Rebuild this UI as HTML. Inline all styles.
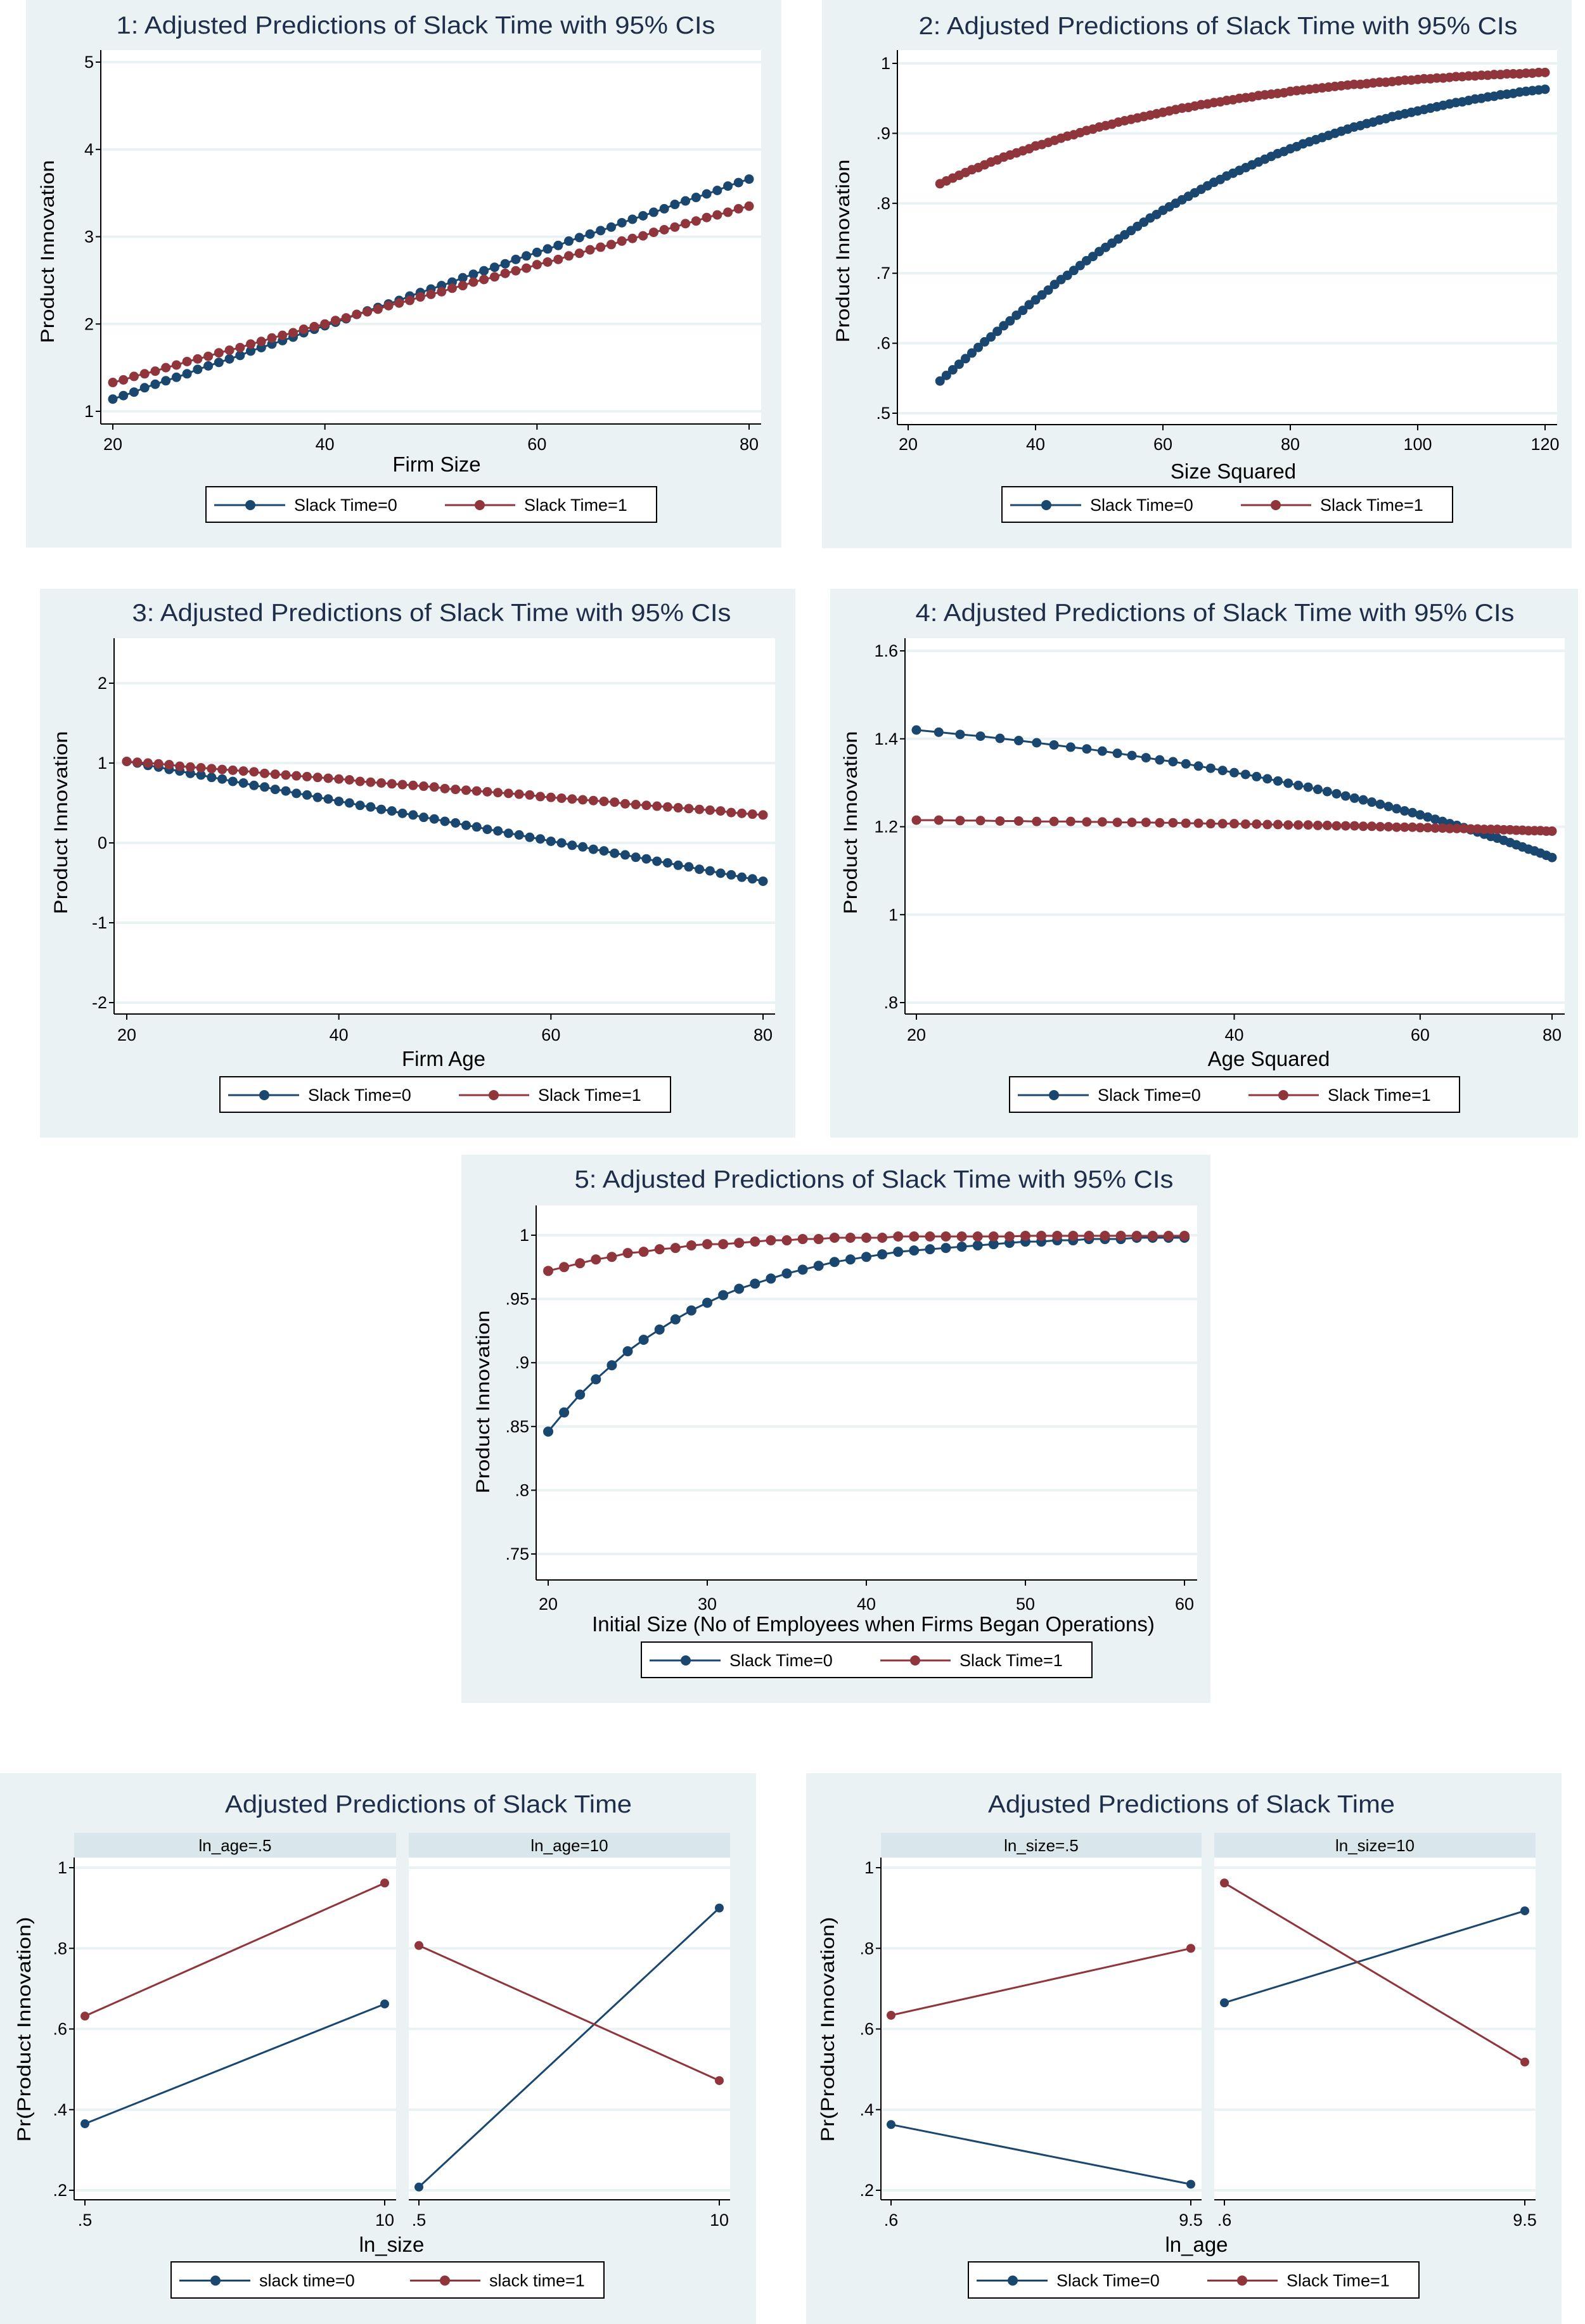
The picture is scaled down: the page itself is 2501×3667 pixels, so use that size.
<!DOCTYPE html>
<html><head><meta charset="utf-8">
<style>
html,body{margin:0;padding:0;background:#fff;}
svg{display:block;font-family:"Liberation Sans",Arial,sans-serif;}
</style></head>
<body>
<svg id="fig" width="2501" height="3667" viewBox="0 0 2501 3667" xmlns="http://www.w3.org/2000/svg"></svg>
<script>
// ---------- DATA ----------
function seq(a,b){const r=[];for(let i=a;i<=b;i++)r.push(i);return r;}
const p1X = seq(20,80);
const p1Slack0 = [1.14,1.18,1.22,1.27,1.31,1.35,1.39,1.43,1.48,1.52,1.56,1.60,1.64,1.69,1.73,1.77,1.81,1.85,1.90,1.94,1.98,2.02,2.06,2.11,2.15,2.19,2.23,2.27,2.32,2.36,2.40,2.44,2.48,2.53,2.57,2.61,2.65,2.69,2.74,2.78,2.82,2.86,2.90,2.95,2.99,3.03,3.07,3.11,3.16,3.20,3.24,3.28,3.32,3.37,3.41,3.45,3.49,3.53,3.58,3.62,3.66];
const p1Slack1 = [1.33,1.36,1.40,1.43,1.46,1.50,1.53,1.57,1.60,1.63,1.67,1.70,1.73,1.77,1.80,1.84,1.87,1.90,1.94,1.97,2.00,2.04,2.07,2.11,2.14,2.17,2.21,2.24,2.27,2.31,2.34,2.37,2.41,2.44,2.48,2.51,2.54,2.58,2.61,2.64,2.68,2.71,2.74,2.78,2.81,2.85,2.88,2.91,2.95,2.98,3.01,3.05,3.08,3.11,3.15,3.18,3.22,3.25,3.28,3.32,3.35];
const p1YTicks = [1,2,3,4,5];
const p1XTicks = [20,40,60,80];

const p2X = seq(25,120);
const p2Slack0 = [.546,.554,.562,.570,.578,.586,.594,.602,.609,.617,.625,.632,.640,.647,.655,.662,.669,.676,.684,.691,.697,.704,.711,.718,.724,.731,.737,.743,.749,.755,.761,.767,.773,.779,.784,.790,.795,.800,.805,.810,.815,.820,.825,.830,.834,.839,.843,.847,.851,.855,.859,.863,.867,.871,.874,.878,.881,.885,.888,.891,.894,.897,.900,.903,.906,.909,.911,.914,.916,.919,.921,.924,.926,.928,.930,.932,.934,.936,.938,.940,.942,.944,.945,.947,.949,.950,.952,.953,.955,.956,.957,.959,.960,.961,.962,.963];
const p2Slack1 = [.828,.832,.836,.840,.844,.848,.851,.855,.859,.862,.866,.869,.872,.875,.878,.882,.884,.887,.890,.893,.896,.898,.901,.904,.906,.909,.911,.913,.916,.918,.920,.922,.924,.926,.928,.930,.932,.934,.936,.937,.939,.941,.942,.944,.945,.947,.948,.950,.951,.952,.954,.955,.956,.957,.958,.960,.961,.962,.963,.964,.965,.966,.967,.968,.969,.970,.970,.971,.972,.973,.973,.974,.975,.976,.976,.977,.978,.978,.979,.979,.980,.981,.981,.982,.982,.983,.983,.984,.984,.985,.985,.985,.986,.986,.987,.987];
const p2YTicks = [.5,.6,.7,.8,.9,1];
const p2YLabels = [".5",".6",".7",".8",".9","1"];
const p2XTicks = [20,40,60,80,100,120];

const p3X = seq(20,80);
const p3Slack0 = [1.02,1.00,0.97,0.95,0.92,0.90,0.87,0.85,0.82,0.80,0.77,0.75,0.72,0.70,0.67,0.65,0.62,0.60,0.57,0.55,0.52,0.50,0.47,0.45,0.42,0.40,0.37,0.35,0.32,0.30,0.27,0.25,0.22,0.20,0.17,0.15,0.12,0.10,0.07,0.05,0.02,0.00,-0.03,-0.05,-0.08,-0.10,-0.13,-0.15,-0.18,-0.20,-0.23,-0.25,-0.28,-0.30,-0.33,-0.35,-0.38,-0.40,-0.43,-0.45,-0.48];
const p3Slack1 = [1.02,1.01,1.00,0.99,0.98,0.96,0.95,0.94,0.93,0.92,0.91,0.90,0.89,0.87,0.86,0.85,0.84,0.83,0.82,0.81,0.80,0.79,0.77,0.76,0.75,0.74,0.73,0.72,0.71,0.70,0.68,0.67,0.66,0.65,0.64,0.63,0.62,0.61,0.60,0.58,0.57,0.56,0.55,0.54,0.53,0.52,0.51,0.49,0.48,0.47,0.46,0.45,0.44,0.43,0.42,0.41,0.40,0.38,0.37,0.36,0.35];
const p3YTicks = [-2,-1,0,1,2];
const p3XTicks = [20,40,60,80];

const p4X = seq(20,80);
const p4Slack0 = [1.420,1.415,1.410,1.406,1.401,1.396,1.391,1.386,1.381,1.377,1.372,1.367,1.362,1.357,1.352,1.348,1.343,1.338,1.333,1.328,1.323,1.319,1.314,1.309,1.304,1.299,1.294,1.290,1.285,1.280,1.275,1.270,1.265,1.261,1.256,1.251,1.246,1.241,1.236,1.232,1.227,1.222,1.217,1.212,1.207,1.203,1.198,1.193,1.188,1.183,1.178,1.174,1.169,1.164,1.159,1.154,1.149,1.145,1.140,1.135,1.130];
const p4Slack1 = [1.215,1.215,1.214,1.214,1.213,1.213,1.212,1.212,1.212,1.211,1.211,1.210,1.210,1.210,1.209,1.209,1.208,1.208,1.207,1.207,1.207,1.206,1.206,1.205,1.205,1.204,1.204,1.204,1.203,1.203,1.202,1.202,1.202,1.201,1.201,1.200,1.200,1.199,1.199,1.199,1.198,1.198,1.197,1.197,1.196,1.196,1.196,1.195,1.195,1.194,1.194,1.194,1.193,1.193,1.192,1.192,1.191,1.191,1.191,1.190,1.190];
const p4YTicks = [.8,1,1.2,1.4,1.6];
const p4YLabels = [".8","1","1.2","1.4","1.6"];
const p4XTicks = [20,40,60,80];

const p5X = seq(20,60);
const p5Slack0 = [.846,.861,.875,.887,.898,.909,.918,.926,.934,.941,.947,.953,.958,.962,.966,.970,.973,.976,.979,.981,.983,.985,.987,.988,.989,.990,.991,.992,.993,.994,.995,.995,.996,.996,.997,.997,.997,.998,.998,.998,.998];
const p5Slack1 = [.972,.975,.978,.981,.983,.986,.987,.989,.990,.992,.993,.993,.994,.995,.996,.996,.997,.997,.998,.998,.998,.998,.999,.999,.999,.999,.999,.999,.999,.999,.9995,.9995,.9995,.9995,.9995,.9995,.9995,.9995,.9995,.9995,.9995];
const p5YTicks = [.75,.8,.85,.9,.95,1];
const p5YLabels = [".75",".8",".85",".9",".95","1"];
const p5XTicks = [20,30,40,50,60];

const p6X = [0.5,10];
const p6LeftSlack0 = [.365,.662];
const p6LeftSlack1 = [.632,.962];
const p6RightSlack0 = [.208,.900];
const p6RightSlack1 = [.807,.472];
const p6XLabels = [".5","10"];

const p7X = [0.6,9.5];
const p7LeftSlack0 = [.363,.215];
const p7LeftSlack1 = [.634,.800];
const p7RightSlack0 = [.665,.893];
const p7RightSlack1 = [.962,.518];
const p7XLabels = [".6","9.5"];

const pYTicks = [.2,.4,.6,.8,1];
const pYLabels = [".2",".4",".6",".8","1"];

// ---------- DRAW ----------
const NS="http://www.w3.org/2000/svg";
const svg=document.getElementById('fig');
const BG="#EAF2F3", NAVY="#1A476F", MAROON="#90353B", TITLE="#1E2D4A";
function el(tag,attrs,parent){const e=document.createElementNS(NS,tag);for(const k in attrs)e.setAttribute(k,attrs[k]);(parent||svg).appendChild(e);return e;}
function txt(str,attrs,parent){const e=el('text',attrs,parent);e.textContent=str;return e;}
function linScale(d0,d1,r0,r1){return v=>r0+(v-d0)*(r1-r0)/(d1-d0);}
function logScale(d0,d1,r0,r1){return v=>r0+(Math.log(v)-Math.log(d0))*(r1-r0)/(Math.log(d1)-Math.log(d0));}

function legend(g,box,labels){
  const [x0,y0,x1,y1]=box; const cy=(y0+y1)/2+1;
  const r=el('rect',{x:x0,y:y0,width:x1-x0,height:y1-y0,fill:'#fff',stroke:'#000','stroke-width':2},g);
  
  const cols=[NAVY,MAROON], offs=[[13,125,70,139],[377,488,432,502]];
  for(let i=0;i<2;i++){
    const o=offs[i];
    const eg=el('g',{},g);
    
    el('line',{x1:x0+o[0],x2:x0+o[1],y1:cy,y2:cy,stroke:cols[i],'stroke-width':3},eg);
    el('circle',{cx:x0+o[2],cy:cy,r:8,fill:cols[i]},eg);
    txt(labels[i],{x:x0+o[3],y:cy+9,'font-size':27,fill:'#000'},eg);
  }
}

function series(g,xs,ys,sx,sy,col,r,name){
  const sg=el('g',{},g);
  
  const pts=xs.map((x,i)=>sx(x).toFixed(1)+','+sy(ys[i]).toFixed(1)).join(' ');
  el('polyline',{points:pts,fill:'none',stroke:col,'stroke-width':3},sg);
  xs.forEach((x,i)=>{el('circle',{cx:sx(x),cy:sy(ys[i]),r:r,fill:col},sg);});
}

function yAxis(g,plot,ticks,labels,sy){
  const [x0,y0,x1,y1]=plot;
  ticks.forEach((t,i)=>{
    el('line',{x1:x0,x2:x1,y1:sy(t),y2:sy(t),stroke:BG,'stroke-width':4},g);
  });
  const ax=el('g',{},g);
  el('line',{x1:x0,x2:x0,y1:y0,y2:y1,stroke:'#000','stroke-width':2},ax);
  ticks.forEach((t,i)=>{
    el('line',{x1:x0-8,x2:x0,y1:sy(t),y2:sy(t),stroke:'#000','stroke-width':2},ax);
    txt(labels[i],{x:x0-11,y:sy(t)+9,'font-size':27,'text-anchor':'end',fill:'#000'},ax);
  });
}
function xAxis(g,x0,x1,yb,ticks,labels,sx,ly){
  const ax=el('g',{},g);
  el('line',{x1:x0,x2:x1,y1:yb,y2:yb,stroke:'#000','stroke-width':2},ax);
  ticks.forEach((t,i)=>{
    el('line',{x1:sx(t),x2:sx(t),y1:yb,y2:yb+9,stroke:'#000','stroke-width':2},ax);
    txt(labels[i],{x:sx(t),y:ly+10,'font-size':27,'text-anchor':'middle',fill:'#000'},ax);
  });
}

function panel(c){
  const g=el('g',{});
  
  el('rect',{x:c.bg[0],y:c.bg[1],width:c.bg[2]-c.bg[0],height:c.bg[3]-c.bg[1],fill:BG},g);
  const [x0,y0,x1,y1]=c.plot;
  el('rect',{x:x0,y:y0,width:x1-x0,height:y1-y0,fill:'#fff'},g);
  const t=txt(c.title,{x:c.tx,y:c.ty+14,'font-size':39,'text-anchor':'middle',fill:TITLE,textLength:c.tl,lengthAdjust:'spacingAndGlyphs'},g);
  
  yAxis(g,c.plot,c.yt,c.yl,c.sy);
  xAxis(g,x0,x1,y1,c.xt,c.xl,c.sx,c.tly);
  const xt=txt(c.xtitle,{x:c.xtx,y:c.xty+12,'font-size':33,'text-anchor':'middle',fill:'#000'},g);
  
  const yt=txt('Product Innovation',{x:0,y:0,'font-size':30,'text-anchor':'middle',fill:'#000',transform:`translate(${c.ytx+10},${c.yty}) rotate(-90)`,textLength:289,lengthAdjust:'spacingAndGlyphs'},g);
  
  series(g,c.x,c.s0,c.sx,c.sy,NAVY,c.r,'series-slack-time-0');
  series(g,c.x,c.s1,c.sx,c.sy,MAROON,c.r,'series-slack-time-1');
  legend(g,c.leg,['Slack Time=0','Slack Time=1']);
}

const T1=' Adjusted Predictions of Slack Time with 95% CIs';
panel({name:'panel-1-firm-size',bg:[41,0,1233,864],plot:[159,79,1201,669],title:'1:'+T1,tx:656,ty:39,tl:945,
  sx:linScale(20,80,178,1182),sy:linScale(1,5,649,98),yt:p1YTicks,yl:p1YTicks.map(String),xt:p1XTicks,xl:p1XTicks.map(String),
  tly:700,xtitle:'Firm Size',xtx:689,xty:732,ytx:75,yty:397,x:p1X,s0:p1Slack0,s1:p1Slack1,r:7.5,leg:[325,768,1036,824]});
panel({name:'panel-2-size-squared',bg:[1297,0,2480,865],plot:[1416,79,2457,670],title:'2:'+T1,tx:1922,ty:40,tl:945,
  sx:linScale(20,120,1433,2438),sy:linScale(.5,1,652,100),yt:p2YTicks,yl:p2YLabels,xt:p2XTicks,xl:p2XTicks.map(String),
  tly:700,xtitle:'Size Squared',xtx:1946,xty:743,ytx:1330,yty:396,x:p2X,s0:p2Slack0,s1:p2Slack1,r:7.5,leg:[1581,768,2292,824]});
panel({name:'panel-3-firm-age',bg:[63,929,1255,1795],plot:[180,1007,1223,1600],title:'3:'+T1,tx:681,ty:966,tl:945,
  sx:linScale(20,80,200,1204),sy:linScale(-2,2,1582,1078),yt:p3YTicks,yl:p3YTicks.map(String),xt:p3XTicks,xl:p3XTicks.map(String),
  tly:1632,xtitle:'Firm Age',xtx:700,xty:1670,ytx:96,yty:1298,x:p3X,s0:p3Slack0,s1:p3Slack1,r:7.5,leg:[347,1699,1058,1755]});
panel({name:'panel-4-age-squared',bg:[1310,929,2490,1795],plot:[1428,1007,2469,1600],title:'4:'+T1,tx:1917,ty:966,tl:945,
  sx:logScale(20,80,1446,2449),sy:linScale(.8,1.6,1582,1027),yt:p4YTicks,yl:p4YLabels,xt:p4XTicks,xl:p4XTicks.map(String),
  tly:1632,xtitle:'Age Squared',xtx:2002,xty:1670,ytx:1342,yty:1298,x:p4X,s0:p4Slack0,s1:p4Slack1,r:7.5,leg:[1593,1699,2303,1755]});
panel({name:'panel-5-initial-size',bg:[728,1822,1910,2687],plot:[846,1902,1889,2493],title:'5:'+T1,tx:1379,ty:1860,tl:945,
  sx:linScale(20,60,865,1869),sy:linScale(.75,1,2452,1949),yt:p5YTicks,yl:p5YLabels,xt:p5XTicks,xl:p5XTicks.map(String),
  tly:2530,xtitle:'Initial Size (No of Employees when Firms Began Operations)',xtx:1378,xty:2562,ytx:762,yty:2212,x:p5X,s0:p5Slack0,s1:p5Slack1,r:8,leg:[1012,2591,1723,2647]});

function facet(c){
  const g=el('g',{});
  
  el('rect',{x:c.bg[0],y:c.bg[1],width:c.bg[2]-c.bg[0],height:c.bg[3]-c.bg[1],fill:BG},g);
  const t=txt('Adjusted Predictions of Slack Time',{x:c.tx,y:2846+14,'font-size':39,'text-anchor':'middle',fill:TITLE,textLength:642,lengthAdjust:'spacingAndGlyphs'},g);
  
  const sy=linScale(.2,1,3456,2947);
  c.subs.forEach((s,k)=>{
    const sg=el('g',{},g);
    
    el('rect',{x:s.x0,y:2892,width:s.x1-s.x0,height:39,fill:'#D9E6EB'},sg);
    const st=txt(s.strip,{x:(s.x0+s.x1)/2,y:2921,'font-size':26,'text-anchor':'middle',fill:'#000'},sg);
    
    el('rect',{x:s.x0,y:2931,width:s.x1-s.x0,height:3471-2931,fill:'#fff'},sg);
    const sx=linScale(c.xs[0],c.xs[1],s.p0,s.p1);
    pYTicks.forEach(v=>el('line',{x1:s.x0,x2:s.x1,y1:sy(v),y2:sy(v),stroke:BG,'stroke-width':4},sg));
    if(k===0){
      const ax=el('g',{},sg);
      el('line',{x1:s.x0,x2:s.x0,y1:2931,y2:3471,stroke:'#000','stroke-width':2},ax);
      pYTicks.forEach((v,i)=>{el('line',{x1:s.x0-8,x2:s.x0,y1:sy(v),y2:sy(v),stroke:'#000','stroke-width':2},ax);
        txt(pYLabels[i],{x:s.x0-11,y:sy(v)+9,'font-size':27,'text-anchor':'end',fill:'#000'},ax);});
    }
    xAxis(sg,s.x0,s.x1,3471,c.xs,c.xl,sx,3502);
    series(sg,c.xs,s.s0,sx,sy,NAVY,7,'series-slack-time-0');
    series(sg,c.xs,s.s1,sx,sy,MAROON,7,'series-slack-time-1');
  });
  const xt=txt(c.xtitle,{x:c.xtx,y:3541+12,'font-size':33,'text-anchor':'middle',fill:'#000'},g);
  
  const yt=txt('Pr(Product Innovation)',{x:0,y:0,'font-size':30,'text-anchor':'middle',fill:'#000',transform:`translate(${c.ytx+10},3202) rotate(-90)`,textLength:355,lengthAdjust:'spacingAndGlyphs'},g);
  
  legend(g,c.leg,c.legl);
}
facet({name:'panel-6-by-ln-age',bg:[0,2798,1193,3667],tx:676,xs:p6X,xl:p6XLabels,xtitle:'ln_size',xtx:618,ytx:38,
  subs:[{x0:117,x1:625,p0:134,p1:607,strip:'ln_age=.5',s0:p6LeftSlack0,s1:p6LeftSlack1},
        {x0:645,x1:1152,p0:661,p1:1135,strip:'ln_age=10',s0:p6RightSlack0,s1:p6RightSlack1}],
  leg:[270,3569,953,3626],legl:['slack time=0','slack time=1']});
facet({name:'panel-7-by-ln-size',bg:[1272,2798,2464,3667],tx:1880,xs:p7X,xl:p7XLabels,xtitle:'ln_age',xtx:1888,ytx:1306,
  subs:[{x0:1390,x1:1896,p0:1406,p1:1879,strip:'ln_size=.5',s0:p7LeftSlack0,s1:p7LeftSlack1},
        {x0:1916,x1:2423,p0:1932,p1:2406,strip:'ln_size=10',s0:p7RightSlack0,s1:p7RightSlack1}],
  leg:[1528,3569,2239,3626],legl:['Slack Time=0','Slack Time=1']});
</script>
</body></html>
